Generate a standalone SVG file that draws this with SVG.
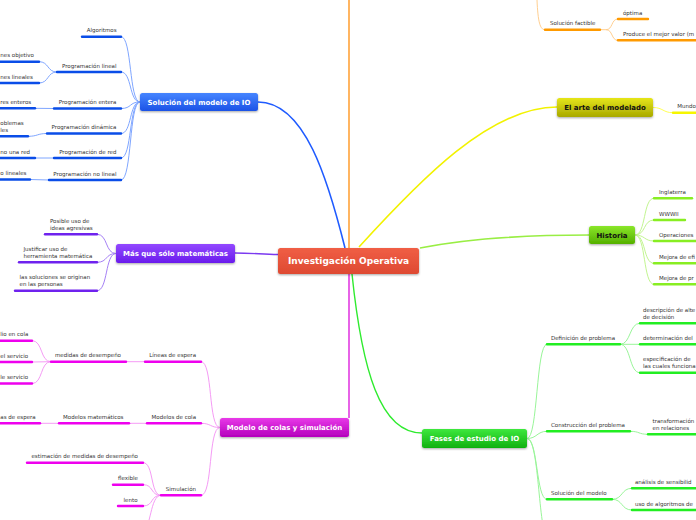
<svg xmlns="http://www.w3.org/2000/svg" width="696" height="520" viewBox="0 0 696 520">
<defs>
<linearGradient id="gC" x1="0" y1="0" x2="0" y2="1"><stop offset="0" stop-color="#f05e45"/><stop offset="1" stop-color="#de4a32"/></linearGradient>
<linearGradient id="gB" x1="0" y1="0" x2="0" y2="1"><stop offset="0" stop-color="#4585ff"/><stop offset="1" stop-color="#1c52e6"/></linearGradient>
<linearGradient id="gP" x1="0" y1="0" x2="0" y2="1"><stop offset="0" stop-color="#9248ff"/><stop offset="1" stop-color="#6a1cec"/></linearGradient>
<linearGradient id="gM" x1="0" y1="0" x2="0" y2="1"><stop offset="0" stop-color="#e83ae8"/><stop offset="1" stop-color="#b400bc"/></linearGradient>
<linearGradient id="gG" x1="0" y1="0" x2="0" y2="1"><stop offset="0" stop-color="#3ee83e"/><stop offset="1" stop-color="#10b010"/></linearGradient>
<linearGradient id="gL" x1="0" y1="0" x2="0" y2="1"><stop offset="0" stop-color="#8ae62a"/><stop offset="1" stop-color="#55b000"/></linearGradient>
<linearGradient id="gY" x1="0" y1="0" x2="0" y2="1"><stop offset="0" stop-color="#e6e61a"/><stop offset="1" stop-color="#a8a800"/></linearGradient>
<filter id="sh" x="-10%" y="-20%" width="120%" height="160%"><feDropShadow dx="0" dy="1" stdDeviation="0.8" flood-color="#000" flood-opacity="0.35"/></filter>
</defs>
<style>
.t{font-family:"DejaVu Sans",Verdana,sans-serif;font-size:5.5px;fill:#333}
.e{text-anchor:end}
.bt{font-family:"DejaVu Sans",Verdana,sans-serif;font-weight:bold;font-size:7px;fill:#fff;text-anchor:middle}
.dk{fill:#111}
.box{filter:url(#sh)}
.u{stroke-width:2.4;stroke-linecap:round;fill:none}
.c{fill:none}
.uB{stroke:#0a4de8}.uP{stroke:#6f22ee}.uM{stroke:#ee00ee}.uG{stroke:#22ee22}.uL{stroke:#88ee22}.uY{stroke:#f6f600}.uO{stroke:#ff9a00}
.cB{stroke:#7fa6ff;stroke-width:1}.cP{stroke:#a580f5;stroke-width:1}.cM{stroke:#f59bf5;stroke-width:1}.cG{stroke:#99f599;stroke-width:1}.cL{stroke:#c2f590;stroke-width:1}.cY{stroke:#ffff55;stroke-width:1}.cO{stroke:#ffcf90;stroke-width:1}
</style>
<rect width="696" height="520" fill="#fff"/>
<g id="connectors">
<path class="c" d="M349,248 L349,0" stroke="#ffa33a" stroke-width="1.6"/>
<path class="c" d="M345,248 C328,180 305,102 258,102" stroke="#1f5bff" stroke-width="1.6"/>
<path class="c" d="M278,254.5 C260,254 250,253 235,253" stroke="#7b3af0" stroke-width="1.4"/>
<path class="c" d="M349,274 L349,418" stroke="#dd22dd" stroke-width="1.4"/>
<path class="c" d="M352,274 C362,370 380,433 422,433" stroke="#2eeb2e" stroke-width="1.4"/>
<path class="c" d="M420,248 C470,238 530,235 589,235" stroke="#99ee44" stroke-width="1.6"/>
<path class="c" d="M359,247 C420,180 490,107 557,107" stroke="#f2f200" stroke-width="1.6"/>
<g class="cB">
<path class="c" d="M140,102 C129,102 132,36.7 121,36.7"/>
<path class="c" d="M140,102 C129,102 132,72 121,72"/>
<path class="c" d="M140,102 C129,102 132,108.5 121,108.5"/>
<path class="c" d="M140,102 C129,102 132,133.5 121,133.5"/>
<path class="c" d="M140,102 C129,102 132,158 121,158"/>
<path class="c" d="M140,102 C129,102 132,180 121,180"/>
<path class="c" d="M57,72 C47,72 49,61.7 39,61.7"/>
<path class="c" d="M57,72 C47,72 49,83 39,83"/>
<path class="c" d="M54,108.5 L35,108.3"/>
<path class="c" d="M47,133.5 C37,133.5 38,136.3 28,136.3"/>
<path class="c" d="M54,158 L35,158"/>
<path class="c" d="M49,180 L30,179.5"/>
</g>
<g class="cP">
<path class="c" d="M116,253.5 C105,253.5 108,234.3 97,234.3"/>
<path class="c" d="M116,253.5 C105,253.5 108,262.3 97,262.3"/>
<path class="c" d="M116,253.5 C105,253.5 108,290.7 97,290.7"/>
</g>
<g class="cM">
<path class="c" d="M220,427.5 C208,427.5 213,361.7 201,361.7"/>
<path class="c" d="M220,427.5 C210,427.5 211,423.3 201,423.3"/>
<path class="c" d="M220,427.5 C208,427.5 213,495.3 201,495.3"/>
<path class="c" d="M145,361.7 L126,361.7"/>
<path class="c" d="M51,361.7 C40,361.7 43,340.7 32,340.7"/>
<path class="c" d="M51,361.7 L32,362"/>
<path class="c" d="M51,361.7 C40,361.7 43,383.5 32,383.5"/>
<path class="c" d="M147,423.3 L129,423.3"/>
<path class="c" d="M59,423.3 L40,423.3"/>
<path class="c" d="M161,495.3 C150,495.3 154,462.7 143,462.7"/>
<path class="c" d="M161,495.3 C150,495.3 154,484.7 143,484.7"/>
<path class="c" d="M161,495.3 C150,495.3 154,506 143,506"/>
<path class="c" d="M161,495.3 C150,495.3 151,530 143,530"/>
</g>
<g class="cG">
<path class="c" d="M527,438.5 C538,438.5 536,344.3 547,344.3"/>
<path class="c" d="M527,438.5 C537,438.5 537,431.3 547,431.3"/>
<path class="c" d="M527,438.5 C538,438.5 536,499.3 547,499.3"/>
<path class="c" d="M527,438.5 C540,438.5 538,540 549,540"/>
<path class="c" d="M620,344.3 C631,344.3 629,323.3 640,323.3"/>
<path class="c" d="M620,344.3 L640,344.3"/>
<path class="c" d="M620,344.3 C631,344.3 629,372.7 640,372.7"/>
<path class="c" d="M630,431.3 C640,431.3 638,434.3 648,434.3"/>
<path class="c" d="M612,499.3 C623,499.3 621,488.3 632,488.3"/>
<path class="c" d="M612,499.3 C623,499.3 621,510 632,510"/>
</g>
<g class="cL">
<path class="c" d="M635,235 C646,235 643,198.3 654,198.3"/>
<path class="c" d="M635,235 C646,235 643,220 654,220"/>
<path class="c" d="M635,235 C645,235 644,241 654,241"/>
<path class="c" d="M635,235 C646,235 643,263.3 654,263.3"/>
<path class="c" d="M635,235 C646,235 643,284.3 654,284.3"/>
</g>
<path class="c cY" d="M653,107.5 C663,107.5 663,112.7 673,112.7"/>
<g class="cO">
<path class="c" d="M537,0 C538,22 540,29.7 545,29.7"/>
<path class="c" d="M600,29.7 L606,29.7 C613,29.7 611,19 618,19"/>
<path class="c" d="M606,29.7 C613,29.7 611,40.3 618,40.3"/>
</g>
</g>

<g id="n-center"><rect class="box" x="278" y="248" width="141" height="26" rx="2.5" fill="url(#gC)"/><text class="bt" x="348.5" y="264.3" style="font-size:9px">Investigación Operativa</text></g>

<g id="n-solucion"><rect class="box" x="140" y="93" width="118" height="18" rx="2.5" fill="url(#gB)"/><text class="bt" x="199" y="104.6">Solución del modelo de IO</text></g>
<g id="n-algoritmos"><line class="u uB" x1="82" y1="36.7" x2="121" y2="36.7"/><text class="t e" x="116.5" y="32.3">Algoritmos</text></g>
<g id="n-plineal"><line class="u uB" x1="57" y1="72" x2="121" y2="72"/><text class="t e" x="116.5" y="67.6">Programación lineal</text></g>
<g id="n-fobj"><line class="u uB" x1="-2" y1="61.7" x2="39" y2="61.7"/><text class="t" x="0.3" y="57.3">nes objetivo</text></g>
<g id="n-rlin"><line class="u uB" x1="-2" y1="83" x2="39" y2="83"/><text class="t" x="0.3" y="78.6">nes lineales</text></g>
<g id="n-pentera"><line class="u uB" x1="54" y1="108.5" x2="121" y2="108.5"/><text class="t e" x="116.5" y="104.1">Programación entera</text></g>
<g id="n-vent"><line class="u uB" x1="-2" y1="108.3" x2="35" y2="108.3"/><text class="t" x="0.3" y="103.9">res enteros</text></g>
<g id="n-pdin"><line class="u uB" x1="47" y1="133.5" x2="121" y2="133.5"/><text class="t e" x="116.5" y="129.1">Programación dinámica</text></g>
<g id="n-subp"><line class="u uB" x1="-2" y1="136.3" x2="28" y2="136.3"/><text class="t" x="0.3" y="125">oblemas</text><text class="t" x="0.3" y="132">les</text></g>
<g id="n-pred"><line class="u uB" x1="54" y1="158" x2="121" y2="158"/><text class="t e" x="116.5" y="153.6">Programación de red</text></g>
<g id="n-cred"><line class="u uB" x1="-2" y1="158" x2="35" y2="158"/><text class="t" x="0.3" y="153.6">no una red</text></g>
<g id="n-pnolin"><line class="u uB" x1="49" y1="180" x2="121" y2="180"/><text class="t e" x="116.5" y="175.6">Programación no lineal</text></g>
<g id="n-fnolin"><line class="u uB" x1="-2" y1="179.5" x2="30" y2="179.5"/><text class="t" x="0.3" y="175.1">o lineales</text></g>

<g id="n-mas"><rect class="box" x="116" y="244" width="119" height="19" rx="2.5" fill="url(#gP)"/><text class="bt" x="175.5" y="256">Más que sólo matemáticas</text></g>
<g id="n-posible"><line class="u uP" x1="45" y1="234.3" x2="97" y2="234.3"/><text class="t" x="50" y="222.8">Posible uso de</text><text class="t" x="50" y="229.8">ideas agresivas</text></g>
<g id="n-justificar"><line class="u uP" x1="19" y1="262.3" x2="97" y2="262.3"/><text class="t" x="23.5" y="250.8">Justificar uso de</text><text class="t" x="23.5" y="257.8">herramienta matemática</text></g>
<g id="n-soluciones"><line class="u uP" x1="15" y1="290.7" x2="97" y2="290.7"/><text class="t" x="19.5" y="279.2">las soluciones se originan</text><text class="t" x="19.5" y="286.2">en las personas</text></g>

<g id="n-colas"><rect class="box" x="220" y="418" width="129" height="19" rx="2.5" fill="url(#gM)"/><text class="bt" x="284.5" y="430">Modelo de colas y simulación</text></g>
<g id="n-lineas"><line class="u uM" x1="145" y1="361.7" x2="201" y2="361.7"/><text class="t e" x="196" y="357.3">Líneas de espera</text></g>
<g id="n-medidas"><line class="u uM" x1="51" y1="361.7" x2="126" y2="361.7"/><text class="t e" x="121" y="357.3">medidas de desempeño</text></g>
<g id="n-m1"><line class="u uM" x1="-2" y1="340.7" x2="32" y2="340.7"/><text class="t" x="0.3" y="336.3">lio en cola</text></g>
<g id="n-m2"><line class="u uM" x1="-2" y1="362" x2="32" y2="362"/><text class="t" x="0.3" y="357.6">el servicio</text></g>
<g id="n-m3"><line class="u uM" x1="-2" y1="383.5" x2="32" y2="383.5"/><text class="t" x="0.3" y="379.1">le servicio</text></g>
<g id="n-mcola"><line class="u uM" x1="147" y1="423.3" x2="201" y2="423.3"/><text class="t e" x="196" y="418.9">Modelos de cola</text></g>
<g id="n-mmat"><line class="u uM" x1="59" y1="423.3" x2="129" y2="423.3"/><text class="t e" x="123.5" y="418.9">Modelos matemáticos</text></g>
<g id="n-lesp"><line class="u uM" x1="-2" y1="423.3" x2="40" y2="423.3"/><text class="t" x="0.3" y="418.9">as de espera</text></g>
<g id="n-simul"><line class="u uM" x1="161" y1="495.3" x2="201" y2="495.3"/><text class="t e" x="196" y="490.9">Simulación</text></g>
<g id="n-estim"><line class="u uM" x1="27" y1="462.7" x2="143" y2="462.7"/><text class="t e" x="138" y="458.3">estimación de medidas de desempeño</text></g>
<g id="n-flex"><line class="u uM" x1="113" y1="484.7" x2="143" y2="484.7"/><text class="t e" x="138" y="480.3">flexible</text></g>
<g id="n-lento"><line class="u uM" x1="118" y1="506" x2="143" y2="506"/><text class="t e" x="137.5" y="501.6">lento</text></g>

<g id="n-fases"><rect class="box" x="422" y="429" width="105" height="19" rx="2.5" fill="url(#gG)"/><text class="bt" x="474.5" y="441">Fases de estudio de IO</text></g>
<g id="n-def"><line class="u uG" x1="547" y1="344.3" x2="620" y2="344.3"/><text class="t" x="551" y="339.9">Definición de problema</text></g>
<g id="n-desc"><line class="u uG" x1="640" y1="323.3" x2="698" y2="323.3"/><text class="t" x="643" y="311.9">descripción de alte</text><text class="t" x="643" y="318.9">de decisión</text></g>
<g id="n-det"><line class="u uG" x1="640" y1="344.3" x2="698" y2="344.3"/><text class="t" x="643" y="339.9">determinación del</text></g>
<g id="n-esp"><line class="u uG" x1="640" y1="372.7" x2="698" y2="372.7"/><text class="t" x="643" y="361.3">especificación de</text><text class="t" x="643" y="368.3">las cuales funciona</text></g>
<g id="n-cons"><line class="u uG" x1="547" y1="431.3" x2="630" y2="431.3"/><text class="t" x="551" y="426.9">Construcción del problema</text></g>
<g id="n-trans"><line class="u uG" x1="648" y1="434.3" x2="698" y2="434.3"/><text class="t" x="652.5" y="422.9">transformación</text><text class="t" x="652.5" y="429.9">en relaciones</text></g>
<g id="n-solm"><line class="u uG" x1="547" y1="499.3" x2="612" y2="499.3"/><text class="t" x="551" y="494.9">Solución del modelo</text></g>
<g id="n-anal"><line class="u uG" x1="632" y1="488.3" x2="698" y2="488.3"/><text class="t" x="635" y="483.9">análisis de sensibilid</text></g>
<g id="n-uso"><line class="u uG" x1="632" y1="510" x2="698" y2="510"/><text class="t" x="635" y="505.6">uso de algoritmos de</text></g>

<g id="n-historia"><rect class="box" x="589" y="226" width="46" height="18" rx="2.5" fill="url(#gL)"/><text class="bt dk" x="612" y="237.6">Historia</text></g>
<g id="n-ing"><line class="u uL" x1="654" y1="198.3" x2="692" y2="198.3"/><text class="t" x="659" y="193.9">Inglaterra</text></g>
<g id="n-ww"><line class="u uL" x1="654" y1="220" x2="685" y2="220"/><text class="t" x="659" y="215.6">WWWII</text></g>
<g id="n-op"><line class="u uL" x1="654" y1="241" x2="698" y2="241"/><text class="t" x="659" y="236.6">Operaciones</text></g>
<g id="n-efi"><line class="u uL" x1="654" y1="263.3" x2="698" y2="263.3"/><text class="t" x="659" y="258.9">Mejora de efi</text></g>
<g id="n-pro"><line class="u uL" x1="654" y1="284.3" x2="698" y2="284.3"/><text class="t" x="659" y="279.9">Mejora de pr</text></g>

<g id="n-arte"><rect class="box" x="557" y="98" width="96" height="19" rx="2.5" fill="url(#gY)"/><text class="bt dk" x="605" y="110">El arte del modelado</text></g>
<g id="n-mundo"><line class="u uY" x1="673" y1="112.7" x2="698" y2="112.7"/><text class="t" x="677.2" y="108.3">Mundo</text></g>

<g id="n-factible"><line class="u uO" x1="545" y1="29.7" x2="600" y2="29.7"/><text class="t" x="550" y="25.3">Solución factible</text></g>
<g id="n-optima"><line class="u uO" x1="618" y1="19" x2="648" y2="19"/><text class="t" x="623" y="14.6">óptima</text></g>
<g id="n-produce"><line class="u uO" x1="618" y1="40.3" x2="698" y2="40.3"/><text class="t" x="623" y="35.9">Produce el mejor valor (m</text></g>
</svg>
